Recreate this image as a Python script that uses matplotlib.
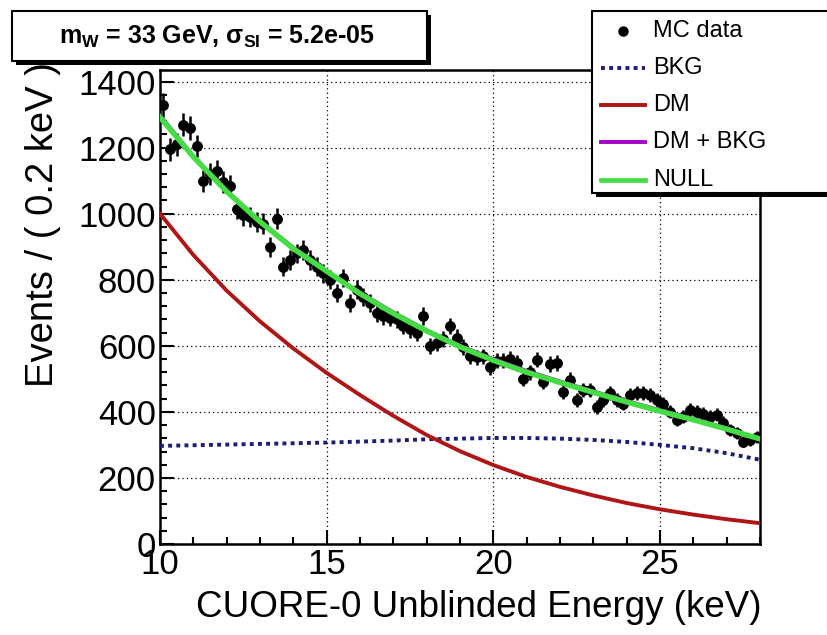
import numpy as np
import matplotlib
matplotlib.use("Agg")
import matplotlib.pyplot as plt
from matplotlib.patches import Rectangle
from matplotlib.lines import Line2D
from matplotlib.ticker import MultipleLocator

plt.rcParams['font.family'] = ['Liberation Sans', 'DejaVu Sans']
plt.rcParams['mathtext.fontset'] = 'custom'
plt.rcParams['mathtext.rm'] = 'Liberation Sans'
plt.rcParams['mathtext.it'] = 'Liberation Sans:italic'
plt.rcParams['mathtext.bf'] = 'Liberation Sans:bold'

# Binned MC events, 0.2 keV bins from 10 to 28 keV
bin_centers = np.round(np.arange(10.1, 28.0, 0.2), 1)
counts = [
    1330, 1195, 1210, 1270, 1260, 1205, 1100, 1120, 1130, 1095,
    1085, 1015, 995, 990, 975, 970, 900, 985, 840, 860,
    880, 890, 860, 840, 820, 800, 760, 805, 730, 770,
    748, 730, 700, 690, 685, 680, 660, 650, 640, 690,
    600, 610, 620, 660, 625, 597, 570, 565, 568, 536,
    555, 555, 560, 548, 500, 520, 558, 490, 545, 548,
    460, 497, 436, 467, 467, 415, 436, 458, 436, 425,
    450, 458, 458, 450, 436, 425, 400, 376, 385, 406,
    400, 395, 385, 391, 367, 345, 336, 310, 315, 324,
]

# Fit components sampled at 1 keV steps
energy_grid = np.arange(10, 29)
dm_model = [1000, 875, 767, 674, 592, 518, 451, 388, 330, 281,
            239, 203, 173, 147, 124, 105, 89, 75, 63]
bkg_model = [297, 299, 301, 303, 305, 307, 310, 313, 317, 319,
             321, 321, 319, 315, 309, 300, 290, 275, 255]
null_model = [1292, 1172, 1067, 976, 894, 826, 758, 698, 645, 597,
              556, 520, 489, 459, 430, 402, 376, 348, 318]

legend_labels = ["MC data", "BKG", "DM", "DM + BKG", "NULL"]
title_text = r"$\mathbf{m}_{\mathbf{W}}$ = 33 GeV, $\mathbf{\sigma}_{\mathbf{SI}}$ = 5.2e-05"

c_dm = "#b01515"
c_bkg = "#1c1c78"
c_sum = "#a000c8"
c_null = "#44dd44"

W, H = 828, 635
fig = plt.figure(figsize=(W / 100, H / 100), dpi=100)
ax = fig.add_axes([160 / W, 1 - 544 / H, 600 / W, (544 - 70) / H])

counts_arr = np.array(counts, dtype=float)
ax.errorbar(bin_centers, counts_arr, xerr=0.1, yerr=np.sqrt(counts_arr),
            fmt='o', color='black', ms=6.8, elinewidth=1.8, capsize=0, zorder=3)

dm_arr = np.array(dm_model, dtype=float)
bkg_arr = np.array(bkg_model, dtype=float)
ax.plot(energy_grid, bkg_arr, color=c_bkg, lw=2.8, ls=(0, (1.0, 1.1)), zorder=4)
ax.plot(energy_grid, dm_arr, color=c_dm, lw=2.8, zorder=4)
ax.plot(energy_grid, dm_arr + bkg_arr, color=c_sum, lw=2.8, zorder=4)
ax.plot(energy_grid, null_model, color=c_null, lw=3.9, zorder=5)

ax.set_xlim(10, 28)
ax.set_ylim(0, 1435)
ax.xaxis.set_major_locator(MultipleLocator(5))
ax.xaxis.set_minor_locator(MultipleLocator(1))
ax.yaxis.set_major_locator(MultipleLocator(200))
ax.yaxis.set_minor_locator(MultipleLocator(40))
ax.grid(True, which='major', color='black', ls=(0, (1, 2.5)), lw=0.9)
ax.tick_params(which='both', direction='in', top=False, right=False,
               labelsize=25, width=1.5, pad=3)
ax.tick_params(which='major', length=10)
ax.tick_params(which='minor', length=5)
for s in ax.spines.values():
    s.set_linewidth(1.8)

# Axis titles aligned to the axis ends
ax.set_xlabel("CUORE-0 Unblinded Energy (keV)", fontsize=26.5, loc='right')
ax.xaxis.set_label_coords(1.003, -0.097)
ax.set_ylabel("Events / ( 0.2 keV )", fontsize=27.5, loc='top')
ax.yaxis.set_label_coords(-0.165, 1.017)

# Title box with drop shadow
def px_rect(x0, y0, x1, y1, **kw):
    return Rectangle((x0 / W, 1 - y1 / H), (x1 - x0) / W, (y1 - y0) / H,
                     transform=fig.transFigure, **kw)

fig.patches.append(px_rect(16, 15, 431, 65, facecolor='black', edgecolor='none', zorder=10))
fig.patches.append(px_rect(12, 11, 427, 61, facecolor='white', edgecolor='black', lw=1.5, zorder=11))
fig.text(217 / W, 1 - 37 / H, title_text, ha='center', va='center',
         fontsize=18, fontweight='bold', zorder=12)

# Legend box with drop shadow
fig.patches.append(px_rect(596, 15, 840, 197, facecolor='black', edgecolor='none', zorder=10))
fig.patches.append(px_rect(592, 11, 836, 193, facecolor='white', edgecolor='black', lw=1.5, zorder=11))
rows_y = [31, 68, 105, 142, 180]
x_a, x_b, x_txt = 601, 645, 653
fig.add_artist(Line2D([623 / W], [1 - rows_y[0] / H], marker='o', color='black',
                      ms=6.5, transform=fig.transFigure, zorder=12))
styles = [(c_bkg, (0, (1.0, 1.1)), 2.8), (c_dm, '-', 2.8), (c_sum, '-', 2.8), (c_null, '-', 3.4)]
for yy, (col, ls, lw) in zip(rows_y[1:], styles):
    fig.add_artist(Line2D([x_a / W, x_b / W], [1 - yy / H] * 2, color=col, ls=ls, lw=lw,
                          transform=fig.transFigure, zorder=12))
for yy, lab in zip(rows_y, legend_labels):
    fig.text(x_txt / W, 1 - yy / H, lab, ha='left', va='center', fontsize=17, zorder=12)

fig.savefig("out.png", dpi=100)
